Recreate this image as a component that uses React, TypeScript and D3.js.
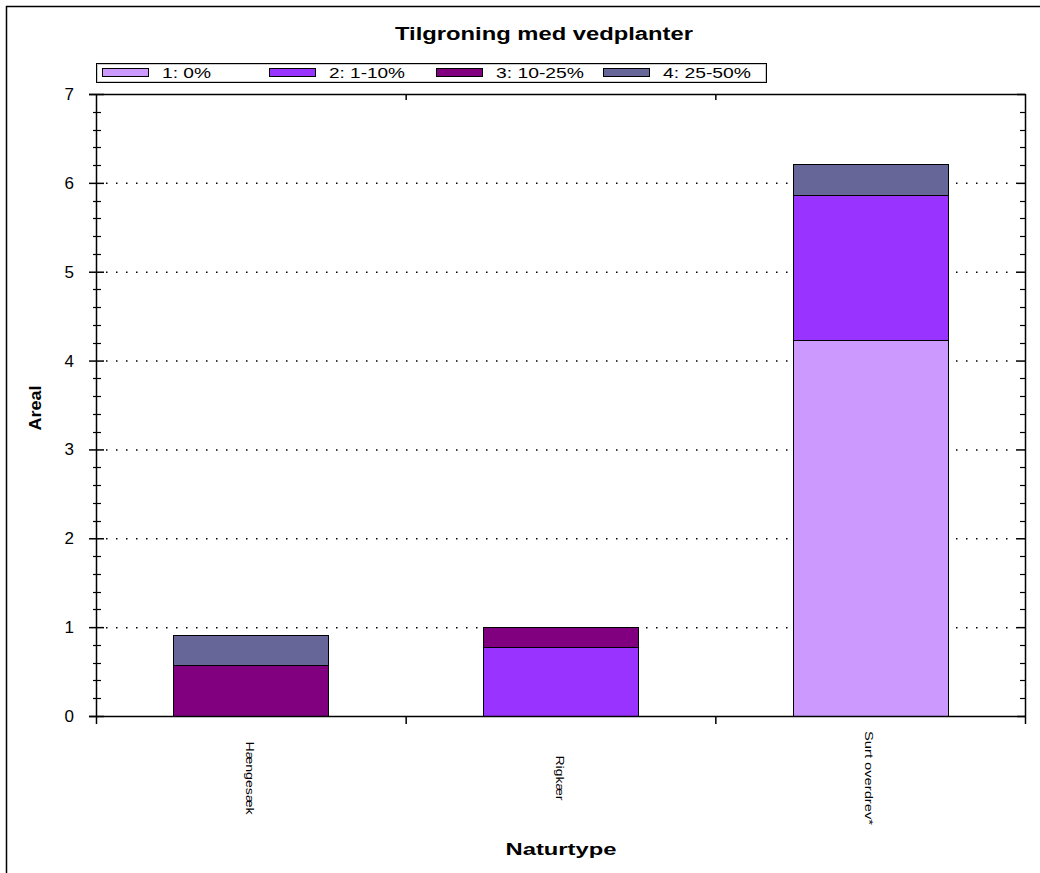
import React from "react";
import * as d3 from "d3";

const categories = ["Hængesæk", "Rigkær", "Surt overdrev*"];
const seriesNames = ["1: 0%", "2: 1-10%", "3: 10-25%", "4: 25-50%"];
const seriesColors = ["#CC99FF", "#9933FF", "#800080", "#666699"];
const s1 = [0, 0, 4.23];
const s2 = [0, 0.78, 1.63];
const s3 = [0.57, 0.22, 0];
const s4 = [0.34, 0, 0.35];
const yTicks = [0, 1, 2, 3, 4, 5, 6, 7];

const W = 1040, H = 873;
const L = 96, R = 1025, T = 94, B = 716;
const FONT = "'Liberation Sans', Arial, sans-serif";
const legendLens = [49, 76, 88, 88];
const labelLens = [73, 45, 94];

export default function App() {
  const series = [s1, s2, s3, s4];
  const x = d3.scaleBand<string>().domain(categories).range([L, R]).paddingInner(0).paddingOuter(0);
  const y = d3.scaleLinear().domain([0, 7]).range([B, T]);
  const barW = x.bandwidth() * 0.5;
  const rows = categories.map((c, i) => {
    const o: any = { cat: c };
    seriesNames.forEach((s, j) => (o[s] = series[j][i]));
    return o;
  });
  const stacked = d3.stack<any>().keys(seriesNames)(rows);
  const minor = d3.range(0, 7.001, 0.2).filter((v) => Math.abs(v - Math.round(v)) > 1e-6);
  const boundaries = categories.slice(1).map((c) => x(c)!);

  return (
    <svg width={W} height={H} style={{ position: "absolute", left: 0, top: 0, background: "#fff" }} fontFamily={FONT}>
      <rect x={6.5} y={6.5} width={W + 20} height={H + 20} fill="#fff" stroke="#000" strokeWidth={1.5} />
      <text x={395} y={40} fontSize={18} fontWeight="bold" textLength={298} lengthAdjust="spacingAndGlyphs">Tilgroning med vedplanter</text>

      {/* legend */}
      <rect x={96.5} y={63.5} width={670} height={19} fill="#fff" stroke="#000" strokeWidth={1} />
      <rect x={97.5} y={64.5} width={668} height={17} fill="none" stroke="#ccc" strokeWidth={1} />
      {seriesNames.map((s, j) => {
        const lx = 102 + j * 167;
        return (
          <g key={s}>
            <rect x={lx + 0.5} y={68.5} width={46} height={8} fill={seriesColors[j]} stroke="#000" />
            <text x={lx + 60} y={78} fontSize={14} fill="#000" textLength={legendLens[j]} lengthAdjust="spacingAndGlyphs">{s}</text>
          </g>
        );
      })}

      {/* gridlines */}
      {yTicks.filter((t) => t > 0 && t < 7).map((t) => (
        <line key={t} x1={L + 10} x2={R - 8} y1={y(t) + 0.5} y2={y(t) + 0.5} stroke="#000" strokeWidth={1.5} strokeDasharray="1.5 8.5" />
      ))}

      {/* bars */}
      {stacked.map((layer, j) =>
        layer.map((d, i) => {
          const h = y(d[0]) - y(d[1]);
          if (h <= 0.01) return null;
          const bx = x(categories[i])! + (x.bandwidth() - barW) / 2;
          return (
            <rect key={j + "-" + i} x={Math.round(bx) + 0.5} y={Math.round(y(d[1])) + 0.5} width={Math.round(barW)} height={Math.round(h)}
              fill={seriesColors[j]} stroke="#000" strokeWidth={1} />
          );
        })
      )}

      {/* axes frame */}
      <line x1={L + 0.5} x2={L + 0.5} y1={T} y2={B + 8} stroke="#000" strokeWidth={1.5} />
      <line x1={R + 0.5} x2={R + 0.5} y1={T} y2={B + 8} stroke="#000" strokeWidth={1.5} />
      <line x1={L - 7} x2={R + 1} y1={B + 0.5} y2={B + 0.5} stroke="#000" strokeWidth={1.5} />
      <line x1={L - 7} x2={R + 1} y1={T + 0.5} y2={T + 0.5} stroke="#000" strokeWidth={1.5} />
      {boundaries.map((b) => (
        <g key={b}>
          <line x1={b + 0.5} x2={b + 0.5} y1={B} y2={B + 8} stroke="#000" strokeWidth={1.5} />
          <line x1={b + 0.5} x2={b + 0.5} y1={T} y2={T + 6} stroke="#000" strokeWidth={1.5} />
        </g>
      ))}
      {yTicks.map((t) => (
        <g key={t}>
          <line x1={L - 7} x2={L + 8} y1={y(t) + 0.5} y2={y(t) + 0.5} stroke="#000" strokeWidth={1.5} />
          <line x1={R - 8} x2={R} y1={y(t) + 0.5} y2={y(t) + 0.5} stroke="#000" strokeWidth={1.5} />
          <text x={L - 22} y={y(t) + 6} textAnchor="end" fontSize={17} fill="#000">{t}</text>
        </g>
      ))}
      {minor.map((t) => (
        <g key={"m" + t}>
          <line x1={L - 3} x2={L + 5} y1={Math.round(y(t)) + 0.5} y2={Math.round(y(t)) + 0.5} stroke="#000" strokeWidth={1.2} />
          <line x1={R - 5} x2={R} y1={Math.round(y(t)) + 0.5} y2={Math.round(y(t)) + 0.5} stroke="#000" strokeWidth={1.2} />
        </g>
      ))}

      {/* x labels */}
      {categories.map((c, i) => {
        const cx = x(c)! + x.bandwidth() / 2;
        return (
          <text key={c} transform={`translate(${cx - 5},778) rotate(90)`} textAnchor="middle" fontSize={11} fill="#000"
            textLength={labelLens[i]} lengthAdjust="spacingAndGlyphs">{c}</text>
        );
      })}

      <text transform={`translate(41,408) rotate(-90)`} textAnchor="middle" fontSize={16} fontWeight="bold" textLength={45} lengthAdjust="spacingAndGlyphs">Areal</text>
      <text x={561} y={855} textAnchor="middle" fontSize={16} fontWeight="bold" textLength={111} lengthAdjust="spacingAndGlyphs">Naturtype</text>
    </svg>
  );
}
